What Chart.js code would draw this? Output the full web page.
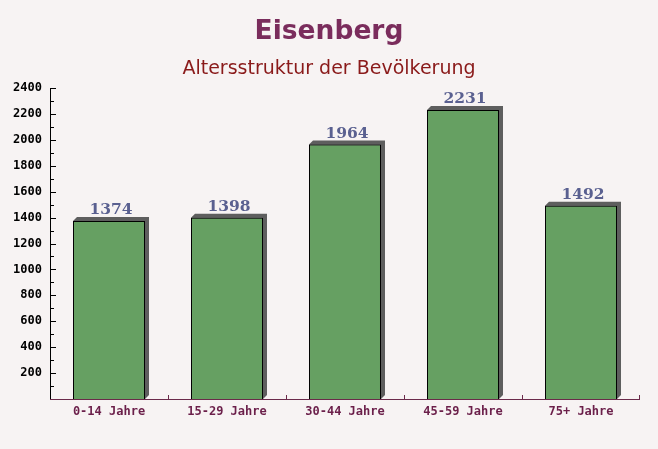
<!DOCTYPE html>
<html>
<head>
<meta charset="utf-8">
<script src="https://cdn.jsdelivr.net/npm/chart.js@4/dist/chart.umd.min.js"></script>
<style>
  html, body { margin: 0; padding: 0; background: #f7f3f3; }
  #wrap { width: 658px; height: 449px; }
</style>
</head>
<body>
<div id="wrap"><canvas id="chart" width="658" height="449"></canvas></div>
<script>
const categories = ["0-14 Jahre", "15-29 Jahre", "30-44 Jahre", "45-59 Jahre", "75+ Jahre"];
const population = [1374, 1398, 1964, 2231, 1492];
const yTicks = [200, 400, 600, 800, 1000, 1200, 1400, 1600, 1800, 2000, 2200, 2400];

const titleText = "Eisenberg";
const subtitleText = "Altersstruktur der Bevölkerung";

// background, titles, bar shadows
const decorPlugin = {
  id: "decor",
  beforeDraw(chart) {
    const ctx = chart.ctx;
    ctx.save();
    ctx.fillStyle = "#f7f3f3";
    ctx.fillRect(0, 0, chart.width, chart.height);
    ctx.textAlign = "center";
    ctx.textBaseline = "middle";
    ctx.fillStyle = "#7a2c5c";
    ctx.font = "bold 26.5px 'DejaVu Sans', sans-serif";
    ctx.fillText(titleText, chart.width / 2, 32);
    ctx.fillStyle = "#8a1a1a";
    ctx.font = "19px 'DejaVu Sans', sans-serif";
    ctx.fillText(subtitleText, chart.width / 2, 69);
    ctx.restore();
  },
  beforeDatasetsDraw(chart) {
    const ctx = chart.ctx;
    const meta = chart.getDatasetMeta(0);
    ctx.save();
    ctx.fillStyle = "#5e5e5e";
    meta.data.forEach((bar) => {
      const p = bar.getProps(["x", "y", "base", "width"], true);
      const l = p.x - p.width / 2, r = p.x + p.width / 2;
      ctx.beginPath();
      ctx.moveTo(l, p.y);
      ctx.lineTo(l + 4, p.y - 4);
      ctx.lineTo(r + 4, p.y - 4);
      ctx.lineTo(r + 4, p.base - 4);
      ctx.lineTo(r, p.base);
      ctx.closePath();
      ctx.fill();
    });
    ctx.restore();
  },
  afterDatasetsDraw(chart) {
    const ctx = chart.ctx;
    const meta = chart.getDatasetMeta(0);
    const y = chart.scales.y, x = chart.scales.x;
    const area = chart.chartArea;
    ctx.save();
    // value labels
    ctx.textAlign = "center";
    ctx.textBaseline = "bottom";
    ctx.fillStyle = "#5a6090";
    ctx.font = "bold 15.5px 'DejaVu Serif', serif";
    meta.data.forEach((bar, i) => {
      ctx.fillText(String(population[i]), bar.x + 2, bar.y - 3);
    });
    // y axis line and inward ticks
    ctx.strokeStyle = "#000";
    ctx.lineWidth = 1;
    ctx.beginPath();
    ctx.moveTo(area.left + 0.5, area.top);
    ctx.lineTo(area.left + 0.5, area.bottom);
    for (let v = 100; v <= 2400; v += 100) {
      const py = Math.round(y.getPixelForValue(v)) + 0.5;
      ctx.moveTo(area.left, py);
      ctx.lineTo(area.left + (v % 200 === 0 ? 6 : 4), py);
    }
    ctx.stroke();
    // x axis line and category ticks
    ctx.strokeStyle = "#6b2a4a";
    ctx.beginPath();
    ctx.moveTo(area.left, area.bottom + 0.5);
    ctx.lineTo(area.right, area.bottom + 0.5);
    for (let i = 1; i <= categories.length; i++) {
      const px = Math.round((x.getPixelForValue(i - 1) + x.getPixelForValue(i)) / 2) + 0.5;
      if (i === categories.length) {
        ctx.moveTo(area.right - 0.5, area.bottom);
        ctx.lineTo(area.right - 0.5, area.bottom - 4);
      } else {
        ctx.moveTo(px, area.bottom);
        ctx.lineTo(px, area.bottom - 4);
      }
    }
    ctx.stroke();
    ctx.restore();
  }
};

new Chart(document.getElementById("chart"), {
  type: "bar",
  data: {
    labels: categories,
    datasets: [{
      data: population,
      backgroundColor: "#66a062",
      borderColor: "#000",
      borderWidth: 1,
      categoryPercentage: 0.61,
      barPercentage: 1
    }]
  },
  options: {
    responsive: false,
    animation: false,
    layout: { padding: { top: 88, right: 18, left: 0, bottom: 0 } },
    plugins: {
      legend: { display: false },
      tooltip: { enabled: false }
    },
    scales: {
      x: {
        grid: { display: false, drawTicks: false },
        border: { display: false },
        afterFit(scale) { scale.height = 50; },
        ticks: {
          color: "#6b1f4a",
          font: { family: "'DejaVu Sans Mono', monospace", size: 12, weight: "bold" },
          padding: 6
        }
      },
      y: {
        min: 0,
        max: 2400,
        afterFit(scale) { scale.width = 50; },
        afterBuildTicks(scale) { scale.ticks = yTicks.map((v) => ({ value: v })); },
        grid: { display: false, drawTicks: false },
        border: { display: false },
        ticks: {
          color: "#000",
          padding: 8,
          callback: (v) => String(v),
          font: { family: "'DejaVu Sans Mono', monospace", size: 12, weight: "bold" }
        }
      }
    }
  },
  plugins: [decorPlugin]
});
</script>
</body>
</html>
